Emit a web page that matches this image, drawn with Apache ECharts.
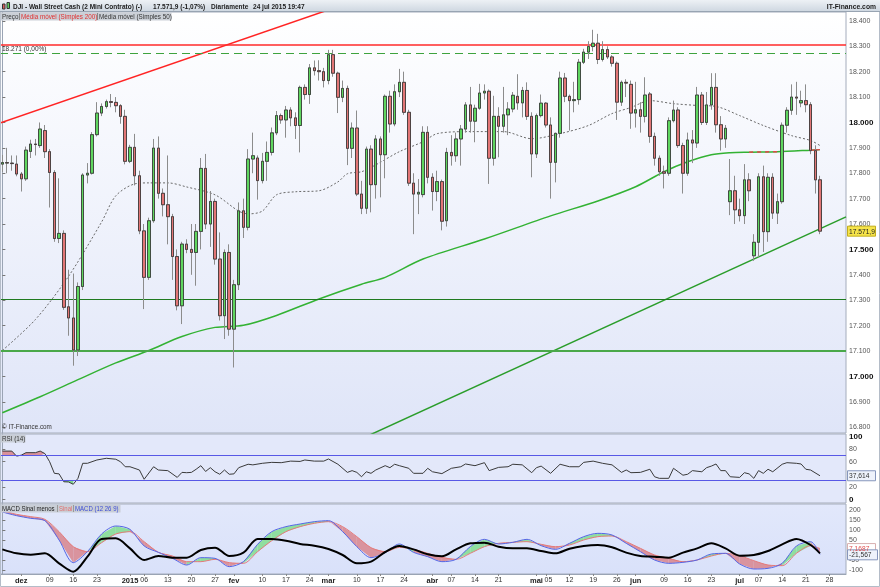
<!DOCTYPE html>
<html><head><meta charset="utf-8">
<script src="https://cdn.jsdelivr.net/npm/echarts@6/dist/echarts.min.js"></script>
<style>html,body{margin:0;padding:0;background:#fff}#c{width:880px;height:587px}</style>
</head><body><div id="c"></div><script>
// ---------- DATA ----------
// candles: [open, close, low, high], one per weekday starting 2014-11-25
const ohlc = [
[17836,17842,17805,17872],[17842,17840,17800,17900],[17840,17838,17810,17870],[17836,17797,17788,17870],[17797,17778,17728,17805],
[17778,17891,17770,17905],[17886,17915,17860,17932],[17915,17913,17870,17935],[17909,17974,17900,18000],[17968,17885,17860,17990],
[17885,17803,17665,17895],[17803,17543,17530,17812],[17543,17563,17525,17780],[17563,17272,17262,17575],[17274,17230,17160,17420],
[17230,17104,17042,17405],[17104,17354,17080,17370],[17354,17793,17340,17800],[17793,17800,17760,17840],[17800,17952,17795,17962],
[17952,18037,17945,18080],[18037,18063,18025,18075],[18063,18082,18055,18090],[18082,18079,18060,18112],[18079,18066,18040,18100],
[18066,18024,17995,18072],[18024,17847,17835,18050],[17847,17902,17840,17912],[17902,17790,17752,17955],[17790,17573,17560,17810],
[17573,17390,17265,17600],[17390,17613,17380,17625],[17613,17899,17605,17935],[17899,17721,17700,17945],[17721,17676,17630,17740],
[17676,17629,17520,17870],[17629,17472,17380,17640],[17472,17278,17260,17500],[17278,17521,17206,17530],[17521,17500,17485,17540],
[17500,17488,17400,17600],[17488,17571,17357,17600],[17571,17819,17500,17860],[17819,17600,17580,17876],[17600,17689,17510,17730],
[17689,17462,17440,17700],[17462,17239,17220,17567],[17239,17488,17147,17500],[17488,17186,17160,17520],[17186,17361,17035,17380],
[17361,17652,17340,17685],[17652,17587,17545,17700],[17587,17856,17575,17895],[17856,17869,17800,17960],[17860,17771,17696,17870],
[17771,17847,17760,17880],[17847,17882,17770,17925],[17882,17959,17870,17980],[17959,18027,17950,18045],[18027,18010,17995,18035],
[18010,18049,17940,18065],[18049,18018,17985,18060],[18018,17988,17935,18040],[17988,18138,17882,18145],[18138,18110,18090,18150],
[18110,18215,18073,18230],[18215,18204,18185,18244],[18204,18200,18165,18245],[18200,18165,18138,18215],[18165,18267,18150,18286],
[18267,18194,18180,18286],[18194,18099,18037,18200],[18099,18134,18080,18165],[18134,17898,17832,18145],[17898,17978,17860,18000],
[17978,17718,17710,18047],[17718,17662,17639,17770],[17662,17895,17640,17905],[17895,17755,17646,17910],[17755,17935,17700,17950],
[17935,17873,17705,17945],[17873,18103,17780,18110],[18103,17994,17960,18125],[17994,18121,17985,18150],[18121,18158,18100,18211],
[18158,18040,18030,18200],[18040,17761,17750,18050],[17761,17718,17560,17800],[17718,17725,17639,17777],[17716,17961,17705,17985],
[17961,17784,17760,17985],[17784,17728,17653,17800],[17728,17767,17690,17810],[17767,17611,17575,17775],[17613,17882,17590,17900],
[17882,17869,17830,17950],[17869,17935,17845,17960],[17935,17974,17830,17990],[17974,18069,17960,18080],[18069,18005,17960,18140],
[18005,18056,17922,18070],[18056,18116,18050,18152],[18116,18123,18090,18150],[18123,17859,17758,18130],[17859,18024,17830,18105],
[18024,17985,17863,18060],[17985,18030,17960,18140],[18030,18053,17950,18080],[18053,18107,18040,18120],[18103,18077,18050,18190],
[18077,18126,18020,18140],[18126,18024,18010,18158],[18024,17876,17784,18040],[17876,18027,17860,18035],[18027,18076,18020,18110],
[18076,17990,17980,18080],[17990,17843,17700,18020],[17843,17957,17764,17960],[17957,18175,17940,18200],[18175,18103,18080,18195],
[18103,18086,17968,18110],[18086,18090,18040,18160],[18090,18237,18070,18250],[18237,18277,18230,18290],[18277,18299,18250,18320],
[18299,18312,18280,18365],[18312,18248,18230,18349],[18248,18287,18240,18320],[18287,18258,18250,18300],[18258,18233,18220,18265],
[18233,18080,18010,18240],[18080,18158,18065,18165],[18158,18155,18100,18170],[18150,18037,17975,18165],[18037,18050,17980,18160],
[18050,18024,17960,18080],[18024,18108,18000,18178],[18112,17945,17920,18120],[17945,17859,17830,17960],[17859,17806,17790,17870],
[17806,17800,17740,17830],[17800,18007,17790,18020],[18007,18049,18000,18086],[18049,17909,17900,18060],[17909,17800,17720,17920],
[17800,17931,17790,17960],[17931,17919,17840,17970],[17919,18108,17900,18140],[18108,18000,17990,18120],[18000,18069,17990,18120],
[18069,18138,18050,18194],[18138,17991,17960,18194],[17991,17935,17889,18025],[17935,17977,17900,17990],[17688,17731,17635,17856],
[17731,17656,17600,17790],[17656,17633,17610,17700],[17633,17774,17600,17836],[17774,17731,17690,17800],[17475,17528,17455,17560],
[17528,17786,17470,17800],[17786,17570,17490,17830],[17570,17784,17530,17800],[17784,17643,17620,17800],[17643,17688,17600,17720],
[17688,17989,17680,18000],[17989,18048,17960,18060],[18048,18100,18030,18150],[18100,18096,18030,18160],[18077,18086,18060,18125],
[18086,18070,18040,18150],[18070,17889,17875,18080],[17889,17774,17720,17910],[17774,17572,17560,17790]
];
// moving averages read at bar indices
const ma200Idx = [0,8,16,24,31,38,45,51,58,67,76,81,89,102,116,126,134,140,145,150,154,158,164,171,173];
const ma200Val = [16857,16920,16987,17053,17102,17157,17193,17201,17240,17305,17363,17390,17462,17541,17632,17691,17747,17806,17845,17873,17881,17883,17885,17891,17893];
const ma50Idx = [0,7,14,21,24,28,31,35,39,45,50,52,55,58,62,67,71,73,76,79,84,89,92,99,106,112,118,124,129,133,137,142,147,151,156,161,167,171,173];
const ma50Val = [17102,17224,17394,17608,17711,17758,17762,17762,17746,17715,17651,17640,17651,17715,17727,17731,17766,17798,17806,17833,17885,17924,17956,17964,17964,17936,17956,17988,18035,18059,18086,18074,18067,18063,18027,17988,17948,17929,17909];
// trend lines [barIndex, price]
const redTrendIdx = [-0.5, 80];   const redTrendVal = [17998, 18514];
const greenTrendIdx = [77, 178.5]; const greenTrendVal = [16763, 17628];
const levels = {red:18306, dashed:18271, dark:17305, green:17100};
const lastPrice = 17571.9;
// RSI (14)
const rsiIdx = [0,2,3,4,5,7,8,9,10,11,12,13,14,15,16,17,18,20,22,24,25,26,27,29,30,32,33,35,37,38,39,40,41,42,43,44,45,46,47,48,49,50,52,53,55,57,59,61,63,64,66,68,69,71,73,74,75,76,77,78,79,81,82,83,84,86,87,89,90,91,93,95,97,98,100,102,103,105,107,108,110,112,113,114,116,118,120,122,123,125,127,129,131,132,133,135,137,138,139,141,142,143,144,145,146,148,149,150,151,152,153,154,156,157,158,159,160,161,162,163,165,166,168,169,170,171,173];
const rsiVal = [77,77,69,70.5,74.5,74.5,77,73,60,41.5,40.6,28,27.7,24,33.5,57.5,57.5,62.8,65.5,64,60,52,52,46.8,32,52,46.8,45.8,35,43,42.5,43,48,53.7,44.5,50.5,44,40,46.8,40,40.6,50.5,56,55,57.5,59,58.5,61,60.5,62.8,61,61,64.4,56,43,45.8,43,36,44,41.5,46.8,53.7,50.5,56,53.7,49.5,41.5,41.5,49.5,44,41,49.5,52,56.4,53.7,58.5,45.8,51,52,56,55,42.5,50.5,53,41.5,56,52,52,59,61,57.5,55,43,46.8,42.5,43,48,36,33.5,33.5,49.5,44,38.5,40,45.8,44,50.5,53,56.4,45.8,45.8,36,35,42.5,40.6,33.5,45.8,41.5,48,44,56,58.5,57.5,56.4,48,46.8,37.614];
const rsiLevels = [70, 30];
// MACD (12 26 9)
const macdIdx = [0,3,6,9,12,15,18,21,24,27,30,33,36,39,42,45,48,51,54,57,60,63,66,69,72,75,78,81,84,87,90,93,96,99,102,105,108,111,114,117,120,123,126,129,132,135,138,141,144,147,150,153,156,159,162,165,168,171,173];
const macdVal = [190,171.7,158.3,146.7,50,-63.3,-8.3,80,120,103.3,20,-11.7,-41.7,-75,-38.3,-41.7,-83.3,-58.3,28.3,91.7,116.7,130,141.7,146.7,91.7,16.7,-38.3,-13.3,30,-11.7,-33.3,-58.3,-46.7,16.7,53.3,30,38.3,53.3,21.7,3.3,33.3,66.7,83.3,75,33.3,-8.3,-50,-66.7,-61.7,-50,-20,-16.7,-70,-95,-91.7,-66.7,20,41.7,-21.567];
const signalVal = [196.7,178.3,166.7,153.3,91.7,16.7,-8.3,36.7,80,91.7,41.7,-11.7,-30,-58.3,-58.3,-46.7,-63.3,-66.7,-8.3,46.7,91.7,116.7,133.3,141.7,116.7,66.7,11.7,-8.3,13.3,3.3,-16.7,-36.7,-46.7,-16.7,16.7,33.3,38.3,41.7,28.3,16.7,25,50,66.7,70,41.7,8.3,-25,-41.7,-58.3,-50,-30,-16.7,-28.3,-53.3,-75,-78.3,-16.7,21.7,7.1687];
const histLineVal = [3.3,-16.7,-23.3,-16.7,-66.7,-108.3,-33.3,55,58.3,8.3,-50,-30,-38.3,-38.3,0,11.7,-30,-13.3,55,55,46.7,30,21.7,5,-25,-66.7,-58.3,-10,20,3.3,-21.7,-31.7,3.3,33.3,36.7,16.7,8.3,8.3,-5,-16.7,6.7,20,25,13.3,-13.3,-30,-33.3,-38.3,-13.3,8.3,33.3,8.3,-28.3,-25,-5,28.3,55,25,-16.7];
// axis tick labels
const priceTicks = [16800,16900,17000,17100,17200,17300,17400,17500,17600,17700,17800,17900,18000,18100,18200,18300,18400];
const priceBold = [17000,17500,18000];
const rsiTicks = [0,20,60,80,100];
const macdTicks = [-100,-50,50,100,150,200];
const tickDates = ['2014-12-01','2014-12-09','2014-12-16','2014-12-23','2015-01-01','2015-01-06','2015-01-13','2015-01-20','2015-01-27','2015-02-02','2015-02-10','2015-02-17','2015-02-24','2015-03-02','2015-03-10','2015-03-17','2015-03-24','2015-04-01','2015-04-07','2015-04-14','2015-04-21','2015-05-01','2015-05-05','2015-05-12','2015-05-19','2015-05-26','2015-06-01','2015-06-09','2015-06-16','2015-06-23','2015-07-01','2015-07-07','2015-07-14','2015-07-21','2015-07-28'];
const tickTexts = ['dez','09','16','23','2015','06','13','20','27','fev','10','17','24','mar','10','17','24','abr','07','14','21','mai','05','12','19','26','jun','09','16','23','jul','07','14','21','28'];
const boldTicks = ['dez','2015','fev','mar','abr','mai','jun','jul'];

// ---------- categories: weekdays from 2014-11-25 to 2015-07-31 ----------
const dates = [];
(function(){ const d = new Date(Date.UTC(2014,10,25));
  while (dates.length < 179) { const w = d.getUTCDay(); if (w>0 && w<6) dates.push(d.toISOString().slice(0,10)); d.setUTCDate(d.getUTCDate()+1); } })();
const tickMap = new Map(tickDates.map((d,i)=>[d,tickTexts[i]]));
const pairs = (a,b) => a.map((k,i)=>[k,b[i]]);
// candle bodies only (same values, wick range limited to the body) so that wicks can be drawn lighter
const bodies = ohlc.map(r => [r[0], r[1], Math.min(r[0],r[1]), Math.max(r[0],r[1])]);
const FONT = '"Liberation Sans", Arial, sans-serif';
const fmtPrice = v => (v/1000).toFixed(3);
const grad = (c1,c2) => new echarts.graphic.LinearGradient(0,0,0,1,[{offset:0,color:c1},{offset:1,color:c2}]);

const chart = echarts.init(document.getElementById('c'));
const XMIN = -0.5, XMAX = 178.5;
const grids = [
  {left:0, top:12, width:846, height:421, show:true, backgroundColor:grad('#ffffff','#dfe5f8'), borderColor:'#a4acbc', borderWidth:1},
  {left:0, top:434, width:846, height:69, show:true, backgroundColor:'#e3e8fa', borderColor:'#a4acbc', borderWidth:1},
  {left:0, top:504, width:846, height:70, show:true, backgroundColor:grad('#e2e8fb','#d9e1fa'), borderColor:'#a4acbc', borderWidth:1}
];
const hiddenVal = g => ({gridIndex:g, type:'value', min:XMIN, max:XMAX, show:false, axisLine:{onZero:false}});
const yCommon = {position:'right', splitLine:{show:false},
  axisLine:{show:true, lineStyle:{color:'#9aa4b4'}}};

const option = {
  animation:false,
  backgroundColor:'#ffffff',
  grid: grids,
  xAxis: [
    {gridIndex:0, type:'category', data:dates, show:false, axisLine:{onZero:false}},
    hiddenVal(0), hiddenVal(1), hiddenVal(2),
    {gridIndex:2, type:'category', data:dates, position:'bottom', boundaryGap:true,
      axisLine:{show:true, onZero:false, lineStyle:{color:'#9aa4b4'}},
      axisTick:{show:true, length:2, alignWithLabel:true, interval:(i,v)=>tickMap.has(v), lineStyle:{color:'#888'}},
      axisLabel:{interval:(i,v)=>tickMap.has(v), margin:3, fontSize:7, color:'#333', fontFamily:FONT,
        formatter:v=>{const t=tickMap.get(v)||''; if (v==='2015-05-05') return '{p|'+t+'}'; return boldTicks.includes(t)?'{b|'+t+'}':t;},
        rich:{b:{fontWeight:'bold', fontSize:7.5, color:'#222', fontFamily:FONT},
              p:{fontSize:7, color:'#333', fontFamily:FONT, padding:[0,0,0,5]}}}}
  ],
  yAxis: [
    Object.assign({}, yCommon, {gridIndex:0, type:'value', min:16777, max:18435,
      axisTick:{show:true, length:3, customValues:priceTicks, lineStyle:{color:'#777'}},
      axisLabel:{customValues:priceTicks, margin:3, fontSize:7, color:'#555', fontFamily:FONT,
        formatter:v=>priceBold.includes(v)?'{b|'+fmtPrice(v)+'}':fmtPrice(v),
        rich:{b:{fontWeight:'bold', fontSize:8, color:'#111', fontFamily:FONT}}}}),
    Object.assign({}, yCommon, {gridIndex:1, type:'value', min:-5.9, max:104.3,
      axisTick:{show:true, length:3, customValues:rsiTicks, lineStyle:{color:'#777'}},
      axisLabel:{customValues:rsiTicks, margin:3, fontSize:7, color:'#555', fontFamily:FONT,
        formatter:v=>(v===0||v===100)?'{b|'+v+'}':String(v),
        rich:{b:{fontWeight:'bold', fontSize:8, color:'#111', fontFamily:FONT}}}}),
    Object.assign({}, yCommon, {gridIndex:2, type:'value', min:-120, max:230,
      axisTick:{show:true, length:3, customValues:macdTicks, lineStyle:{color:'#777'}},
      axisLabel:{customValues:macdTicks, margin:3, fontSize:7, color:'#555', fontFamily:FONT}})
  ],
  series: [
    {type:'line', xAxisIndex:1, yAxisIndex:0, data:pairs(ma200Idx,ma200Val), symbol:'none', smooth:0.3, z:3,
      lineStyle:{color:'#33b233', width:1.5}},
    {type:'line', xAxisIndex:1, yAxisIndex:0, data:pairs(ma200Idx,ma200Val).filter(p=>p[0]>=158&&p[0]<=164), symbol:'none', z:4,
      lineStyle:{color:'#e04848', width:1.5, type:[4,4]}},
    {type:'line', xAxisIndex:1, yAxisIndex:0, data:pairs(ma200Idx,ma200Val).filter(p=>p[0]>=171), symbol:'none', z:4,
      lineStyle:{color:'#e04848', width:1.5}},
    {type:'line', xAxisIndex:1, yAxisIndex:0, data:pairs(ma50Idx,ma50Val), symbol:'none', smooth:0.3, z:3,
      lineStyle:{color:'#6a6a6a', width:1, type:[2,2]}},
    {type:'line', xAxisIndex:1, yAxisIndex:0, data:pairs(redTrendIdx,redTrendVal), symbol:'none', z:3, clip:true,
      lineStyle:{color:'#ff2424', width:1.5}},
    {type:'line', xAxisIndex:1, yAxisIndex:0, data:pairs(greenTrendIdx,greenTrendVal), symbol:'none', z:3, clip:true,
      lineStyle:{color:'#2a9d2a', width:1.5}},
    // wicks (light grey)
    {type:'candlestick', xAxisIndex:0, yAxisIndex:0, data:ohlc, barWidth:3, z:5,
      itemStyle:{color:'#5fd65f', color0:'#e27676', borderColor:'#8c8c8c', borderColor0:'#8c8c8c', borderWidth:1},
      markLine:{silent:true, symbol:'none', animation:false, data:[
        {yAxis:levels.red, lineStyle:{color:'#ff2a2a', width:1.5, type:'solid'}, label:{show:false}},
        {yAxis:levels.dashed, lineStyle:{color:'#3ea33e', width:1, type:[8,5]},
          label:{show:true, position:'insideStartTop', formatter:'18.271 (0,00%)', color:'#333', fontSize:6.5, fontFamily:FONT, distance:[2,1]}},
        {yAxis:levels.dark, lineStyle:{color:'#1f7a1f', width:1, type:'solid'}, label:{show:false}},
        {yAxis:levels.green, lineStyle:{color:'#4aa84a', width:2, type:'solid'}, label:{show:false}}
      ]}},
    // bodies with dark outline
    {type:'candlestick', xAxisIndex:0, yAxisIndex:0, data:bodies, barWidth:3, z:6,
      itemStyle:{color:'#5fd65f', color0:'#e27676', borderColor:'#333333', borderColor0:'#333333', borderWidth:0.8}},
    // RSI
    {type:'line', xAxisIndex:2, yAxisIndex:1, data:pairs(rsiIdx,rsiVal).filter(p=>p[0]<=9), symbol:'none', z:1,
      lineStyle:{width:0}, areaStyle:{origin:70, color:'#d9919b', opacity:1}},
    {type:'line', xAxisIndex:2, yAxisIndex:1, data:pairs(rsiIdx,rsiVal).filter(p=>p[0]>=13&&p[0]<=15), symbol:'none', z:1,
      lineStyle:{width:0}, areaStyle:{origin:30, color:'#7fd58f', opacity:1}},
    {type:'line', xAxisIndex:2, yAxisIndex:1, data:pairs(rsiIdx,rsiVal), symbol:'none', z:3,
      lineStyle:{color:'#3a3a3a', width:1},
      markLine:{silent:true, symbol:'none', label:{show:false},
        data:rsiLevels.map(v=>({yAxis:v})), lineStyle:{color:'#5858e6', width:1, type:'solid'}}},
    // MACD fill
    {type:'custom', xAxisIndex:3, yAxisIndex:2, silent:true, z:1,
      data:macdIdx.map((k,i)=>[k,macdVal[i],signalVal[i]]), encode:{x:0, y:[1,2]},
      renderItem:(params, api)=>{
        const i = params.dataIndex; if (i >= macdIdx.length-1) return null;
        const m1 = api.coord([macdIdx[i],macdVal[i]]), m2 = api.coord([macdIdx[i+1],macdVal[i+1]]);
        const s1 = api.coord([macdIdx[i],signalVal[i]]), s2 = api.coord([macdIdx[i+1],signalVal[i+1]]);
        const up = (macdVal[i]+macdVal[i+1]) >= (signalVal[i]+signalVal[i+1]);
        return {type:'polygon', shape:{points:[m1,m2,s2,s1]}, style:{fill: up?'#8fdea0':'#d9939e', stroke:null}};
      }},
    {type:'line', xAxisIndex:3, yAxisIndex:2, data:pairs(macdIdx,signalVal), symbol:'none', smooth:0.3, z:3,
      lineStyle:{color:'#e57b7b', width:1}},
    {type:'line', xAxisIndex:3, yAxisIndex:2, data:pairs(macdIdx,macdVal), symbol:'none', smooth:0.3, z:3,
      lineStyle:{color:'#5566e6', width:1}},
    {type:'line', xAxisIndex:3, yAxisIndex:2, data:pairs(macdIdx,histLineVal), symbol:'none', smooth:0.3, z:4,
      lineStyle:{color:'#000000', width:2}}
  ]
};
chart.setOption(option);

// ---------- overlay text / boxes ----------
const yPx = (axis, v) => chart.convertToPixel({yAxisIndex:axis}, v);
const txt = (x,y,t,o,sx) => ({type:'text', x, y, scaleX:sx||1, silent:true, z:100,
  style:Object.assign({text:t, fontFamily:FONT, fontSize:7, fill:'#333', verticalAlign:'middle'}, o||{})});
const rect = (x,y,w,h,fill,stroke) => ({type:'rect', silent:true, z:99, shape:{x,y,width:w,height:h}, style:{fill, stroke:stroke||null, lineWidth:1}});
const vline = (x,y1,y2,c) => ({type:'line', silent:true, z:100, shape:{x1:x,y1,x2:x,y2}, style:{stroke:c, lineWidth:1}});
const pY = yPx(0,lastPrice), rY = yPx(1,37.614), sY = yPx(2,7.1687), mY = yPx(2,-21.567);
const HB = {fontWeight:'bold', fontSize:7.5, fill:'#1b1b1b'};
const g = [
  rect(0,0,880,12,grad('#edf1f5','#cdd6e0')),
  {type:'line', silent:true, z:99, shape:{x1:0,y1:11.5,x2:880,y2:11.5}, style:{stroke:'#98a4b2', lineWidth:1}},
  rect(2.5,4,2.5,5,'#d95a5a','#333'), rect(7,2.5,2.5,6,'#5cc85c','#333'),
  txt(13,6.5,'DJI - Wall Street Cash (2 Mini Contrato) (-)',HB,0.87),
  txt(153,6.5,'17.571,9 (-1,07%)',HB,0.87),
  txt(211,6.5,'Diariamente',HB,0.87),
  txt(253,6.5,'24 jul 2015 19:47',HB,0.87),
  txt(876,6.5,'IT-Finance.com',Object.assign({align:'right'},HB),0.9),
  rect(0.5,12.5,171,8,'#cbd0d7'),
  txt(2,16.8,'Preço',{fill:'#333'},0.9),
  vline(19.5,13,20,'#888'),
  txt(21,16.8,'Média móvel (Simples 200)',{fill:'#e03030'},0.9),
  vline(97.5,13,20,'#888'),
  txt(99,16.8,'Média móvel (Simples 50)',{fill:'#333'},0.9),
  txt(2,427.5,'© IT-Finance.com',{fill:'#333'},0.9),
  rect(0.5,434.5,25,8,'#c9ced6'),
  txt(2,438.8,'RSI (14)',{fill:'#333'},0.9),
  rect(0.5,504.5,120,8,'#c9ced6'),
  txt(2,508.8,'MACD Sinal menos',{fill:'#222'},0.86),
  vline(57.5,505,512,'#999'),
  txt(59,508.8,'Sinal',{fill:'#e07070'},0.86),
  vline(73.5,505,512,'#999'),
  txt(75,508.8,'MACD (12 26 9)',{fill:'#3b4bd6'},0.86),
  rect(847.5,pY-5,28,10,'#f6e44a','#c2ad1c'),
  txt(849,pY+0.5,'17.571,9',{fill:'#222'},0.95),
  rect(847.5,rY-5,28,10,'#eef2fb','#8696bc'),
  txt(849,rY+0.5,'37,614',{fill:'#333'},0.95),
  rect(847.5,sY-5,28,9.5,'#ffffff','#d8b0b0'),
  txt(849,sY,'7,1687',{fill:'#e05050'},0.95),
  rect(847.5,mY-4.5,30,10,'#eef2fb','#8696bc'),
  txt(849,mY+0.5,'-21,567',{fill:'#333'},0.95),
  {type:'rect', silent:true, z:98, shape:{x:0.5,y:0.5,width:879,height:586}, style:{fill:null, stroke:'#b4bcc8', lineWidth:1}}
];
chart.setOption({graphic:g});
</script></body></html>
